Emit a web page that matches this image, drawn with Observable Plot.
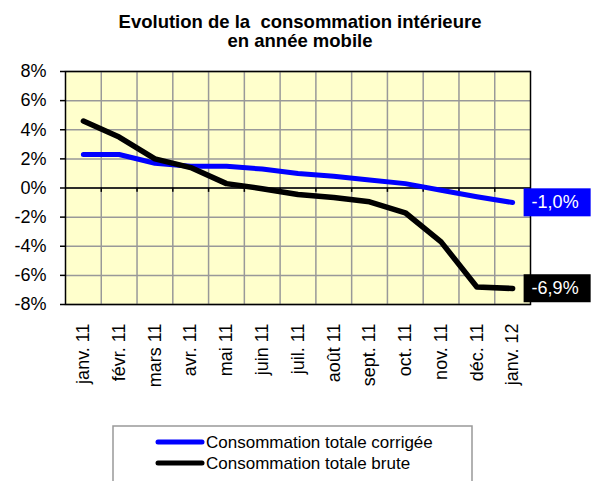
<!DOCTYPE html>
<html><head><meta charset="utf-8">
<script src="https://cdn.jsdelivr.net/npm/d3@7"></script>
<script src="https://cdn.jsdelivr.net/npm/@observablehq/plot@0.6"></script>
<style>body{margin:0;background:#fff} svg{font-family:Arial,"Liberation Sans",sans-serif}</style>
</head><body><div id="chart"></div>
<script>
const months = ["janv. 11","févr. 11","mars 11","avr. 11","mai 11","juin 11","juil. 11","août 11","sept. 11","oct. 11","nov. 11","déc. 11","janv. 12"];
const corrigee = [2.3, 2.3, 1.7, 1.5, 1.5, 1.3, 1.0, 0.8, 0.55, 0.3, -0.15, -0.6, -1.0];
const brute = [4.6, 3.5, 2.0, 1.4, 0.3, -0.05, -0.45, -0.65, -0.95, -1.7, -3.7, -6.8, -6.9];
const yTicks = [-8, -6, -4, -2, 0, 2, 4, 6, 8];
const seriesNames = ["Consommation totale corrigée", "Consommation totale brute"];
const seriesColors = ["#0000FF", "#000000"];
const titleLines = ["Evolution de la  consommation intérieure", "en année mobile"];

const idx = months.map((_, i) => i);
const bounds = d3.range(1, months.length).map(k => k - 0.5);
const last = months.length - 1;
const fmt = v => v.toFixed(1).replace(".", ",") + "%";
const endLabels = [
  {i: last, v: corrigee[last], label: fmt(corrigee[last]), c: seriesColors[0]},
  {i: last, v: brute[last], label: fmt(brute[last]), c: seriesColors[1]}
];

const chart = Plot.plot({
  width: 593, height: 481,
  marginTop: 71, marginBottom: 177, marginLeft: 65, marginRight: 63,
  style: {fontFamily: 'Arial, "Liberation Sans", sans-serif', fontSize: "18px", color: "#000", background: "#fff", overflow: "visible"},
  x: {domain: [-0.5, months.length - 0.5], axis: null, label: null},
  y: {domain: [-8, 8], axis: null, label: null},
  marks: [
    Plot.frame({fill: "#FFFFCC"}),
    Plot.ruleY(yTicks, {stroke: "#999", strokeWidth: 1.5}),
    Plot.ruleX(bounds, {stroke: "#999", strokeWidth: 1.5}),
    Plot.ruleY([0], {stroke: "#000", strokeWidth: 1.5}),
    Plot.ruleX(bounds, {y1: 0, y2: -0.3, stroke: "#000", strokeWidth: 1.5}),
    Plot.axisY({ticks: yTicks, tickFormat: d => d + "%", tickSize: 5, tickPadding: 14, fontSize: 18, strokeWidth: 1.5, label: null}),
    Plot.axisX({ticks: idx, tickFormat: i => months[i], tickRotate: -90, tickSize: 0, tickPadding: 19, fontSize: 18, label: null}),
    Plot.lineY(corrigee, {x: (d, i) => i, y: d => d, stroke: seriesColors[0], strokeWidth: 5, strokeLinecap: "round", strokeLinejoin: "round"}),
    Plot.lineY(brute, {x: (d, i) => i, y: d => d, stroke: seriesColors[1], strokeWidth: 5.5, strokeLinecap: "round", strokeLinejoin: "round"}),
    Plot.frame({stroke: "#000", strokeWidth: 1.5}),
    Plot.text(endLabels, {x: "i", y: "v", text: "label", fill: "#fff", textAnchor: "start", dx: 19, fontSize: 18, className: "endlab"})
  ]
});
document.getElementById("chart").appendChild(chart);

const svg = d3.select(chart);
// boxes behind end labels
svg.selectAll("g.endlab text").each(function(d, j) {
  const b = this.getBBox();
  const r = document.createElementNS("http://www.w3.org/2000/svg", "rect");
  const tr = this.getAttribute("transform");
  if (tr) r.setAttribute("transform", tr);
  r.setAttribute("x", b.x - 8);
  r.setAttribute("y", b.y + b.height / 2 - 14);
  r.setAttribute("width", b.width + 20);
  r.setAttribute("height", 28);
  r.setAttribute("fill", endLabels[j].c);
  this.parentNode.insertBefore(r, this);
});

// title
const t = svg.append("g").attr("font-weight", "bold").attr("font-size", 18.5).attr("text-anchor", "middle").style("white-space", "pre");
titleLines.forEach((s, k) => t.append("text").attr("x", 300).attr("y", 28 + k * 19).text(s));

// legend
const lg = svg.append("g").attr("text-anchor", "start");
lg.append("rect").attr("x", 113).attr("y", 426).attr("width", 359).attr("height", 70).attr("fill", "#fff").attr("stroke", "#999").attr("stroke-width", 1.5);
seriesNames.forEach((s, k) => {
  const y = 442 + k * 21;
  lg.append("line").attr("x1", 158).attr("x2", 202).attr("y1", y).attr("y2", y).attr("stroke", seriesColors[k]).attr("stroke-width", 5).attr("stroke-linecap", "round");
  lg.append("text").attr("x", 206).attr("y", y).attr("dy", "0.35em").attr("font-size", 17).text(s);
});
</script></body></html>
